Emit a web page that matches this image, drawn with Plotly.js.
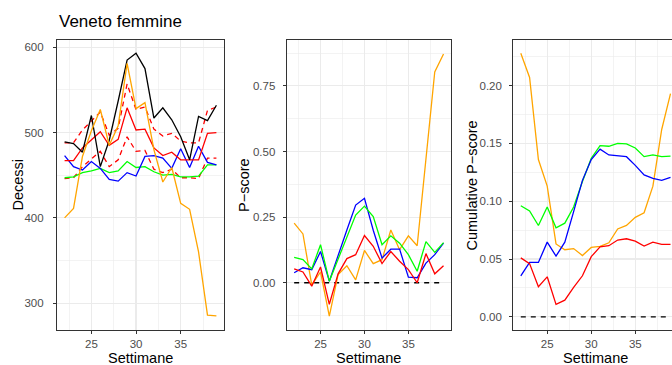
<!DOCTYPE html>
<html>
<head>
<meta charset="utf-8">
<script src="https://cdn.plot.ly/plotly-3.0.1.min.js"></script>
<style>
html,body{margin:0;padding:0;overflow:hidden;background:#fff;}
#chart{width:685px;height:365px;}
</style>
</head>
<body>
<div id="chart"></div>
<script>
// ---- data ----
const weeks = [22,23,24,25,26,27,28,29,30,31,32,33,34,35,36,37,38,39];

// Panel 1: Decessi
const deathsBlack   = [489,487,477,520,460,491,537,585,593,575,517,529,515,495,468,519,514,532];
const deathsOrange  = [400,411,472,502,527,485,508,581,528,535,480,442,459,417,410,360,286,285];
const deathsRed     = [467,467,482,492,501,485,492,529,503,504,482,473,477,468,468,468,499,500];
const deathsRedHi   = [488,488,503,514,524,497,505,557,527,530,504,496,499,490,488,488,526,530];
const deathsRedLo   = [446,447,460,469,478,460,468,495,478,479,457,453,457,447,447,446,470,470];
const deathsBlue    = [473,460,456,466,458,445,443,453,449,472,473,470,458,481,459,484,465,462];
const deathsGreen   = [447,448,453,455,458,453,455,466,459,460,454,450,451,448,448,449,462,462];

// Panel 2: P-score
const pOrange = [0.227,0.186,-0.008,0.041,-0.127,0.031,0.065,0.011,0.123,0.073,0.088,0.201,0.126,0.179,0.141,0.47,0.803,0.872];
const pBlue   = [0.038,0.057,0.050,0.119,0.006,0.107,0.201,0.296,0.322,0.200,0.094,0.128,0.128,0.021,0.019,0.075,0.107,0.151];
const pGreen  = [0.097,0.088,0.053,0.145,0.006,0.088,0.176,0.258,0.292,0.252,0.145,0.179,0.151,0.107,0.044,0.157,0.116,0.153];
const pRed    = [0.053,0.041,-0.013,0.060,-0.082,0.034,0.092,0.107,0.180,0.139,0.073,0.119,0.082,0.050,0.000,0.111,0.034,0.065];

// Panel 3: Cumulative P-score
const cOrange = [0.228,0.207,0.136,0.113,0.063,0.058,0.059,0.053,0.060,0.061,0.064,0.076,0.079,0.086,0.090,0.113,0.162,0.193];
const cGreen  = [0.096,0.0915,0.079,0.095,0.077,0.081,0.095,0.117,0.137,0.148,0.1475,0.150,0.1495,0.146,0.1385,0.140,0.1385,0.139];
const cBlue   = [0.0355,0.047,0.047,0.0646,0.0525,0.0646,0.091,0.118,0.136,0.145,0.140,0.139,0.1385,0.131,0.1227,0.1198,0.118,0.1206];
const cRed    = [0.051,0.046,0.026,0.0346,0.0107,0.0144,0.0254,0.0355,0.052,0.0606,0.0615,0.0664,0.0675,0.0655,0.0612,0.0646,0.0626,0.0626];

const zeroLine = weeks.map(() => 0);

// ---- styling ----
const W = 685, H = 365;
const LW = 1.3;
const FONT = 'Liberation Sans, Arial, Helvetica, sans-serif';
function line(x, y, color, xa, ya, dash) {
  return {x: x, y: y, type: 'scatter', mode: 'lines', xaxis: xa, yaxis: ya,
          line: {color: color, width: LW, dash: dash || 'solid'}, hoverinfo: 'skip', showlegend: false};
}
const traces = [
  line(weeks, deathsRedHi, '#FF0000', 'x', 'y', '5px,4px'),
  line(weeks, deathsRedLo, '#FF0000', 'x', 'y', '5px,4px'),
  line(weeks, deathsGreen, '#00FF00', 'x', 'y'),
  line(weeks, deathsBlue, '#0000FF', 'x', 'y'),
  line(weeks, deathsRed, '#FF0000', 'x', 'y'),
  line(weeks, deathsBlack, '#000000', 'x', 'y'),
  line(weeks, deathsOrange, '#FFA500', 'x', 'y'),

  line(weeks, zeroLine, '#000000', 'x2', 'y2', '5px,5px'),
  line(weeks, pOrange, '#FFA500', 'x2', 'y2'),
  line(weeks, pBlue, '#0000FF', 'x2', 'y2'),
  line(weeks, pGreen, '#00FF00', 'x2', 'y2'),
  line(weeks, pRed, '#FF0000', 'x2', 'y2'),

  line(weeks, zeroLine, '#000000', 'x3', 'y3', '5px,5px'),
  line(weeks, cOrange, '#FFA500', 'x3', 'y3'),
  line(weeks, cGreen, '#00FF00', 'x3', 'y3'),
  line(weeks, cBlue, '#0000FF', 'x3', 'y3'),
  line(weeks, cRed, '#FF0000', 'x3', 'y3'),
];

const yDom = [1 - 330/H, 1 - 40/H];
function xaxis(x0, x1, anchor) {
  return {domain: [x0/W, x1/W], anchor: anchor, range: [21.15, 39.85],
    tickmode: 'linear', tick0: 0, dtick: 5,
    showgrid: true, gridcolor: '#EBEBEB', gridwidth: 1.1,
    minor: {tick0: 0, dtick: 2.5, showgrid: true, gridcolor: '#EBEBEB', gridwidth: 0.6, ticks: ''},
    zeroline: false, showline: true, mirror: true, linecolor: '#333333', linewidth: 1.1,
    ticks: 'outside', ticklen: 3, tickcolor: '#333333', tickwidth: 1,
    tickfont: {family: FONT, size: 11.5, color: '#4D4D4D'}, ticklabelstandoff: 0};
}
function yaxis(range, dtick, fmt, anchor, standoff) {
  return {domain: yDom, anchor: anchor, range: range,
    tickmode: 'linear', tick0: 0, dtick: dtick, tickformat: fmt,
    showgrid: true, gridcolor: '#EBEBEB', gridwidth: 1.1,
    minor: {tick0: 0, dtick: dtick/2, showgrid: true, gridcolor: '#EBEBEB', gridwidth: 0.6, ticks: ''},
    zeroline: false, showline: true, mirror: true, linecolor: '#333333', linewidth: 1.1,
    ticks: 'outside', ticklen: 3, tickcolor: '#333333', tickwidth: 1,
    tickfont: {family: FONT, size: 11.5, color: '#4D4D4D'}, ticklabelstandoff: standoff};
}
function ann(text, px, py, size, opts) {
  return Object.assign({text: text, xref: 'paper', yref: 'paper', x: px/W, y: 1 - py/H,
    showarrow: false, xanchor: 'center', yanchor: 'middle',
    font: {family: FONT, size: size, color: '#000000'}}, opts || {});
}

const layout = {
  width: W, height: H,
  margin: {l: 0, r: 0, t: 0, b: 0},
  paper_bgcolor: '#FFFFFF', plot_bgcolor: '#FFFFFF',
  showlegend: false,
  xaxis: xaxis(57, 224, 'y'),
  xaxis2: xaxis(286.7, 451, 'y2'),
  xaxis3: xaxis(513.3, 678, 'y3'),
  yaxis: yaxis([268.5, 608.5], 100, 'd', 'x', 7),
  yaxis2: yaxis([-0.18, 0.925], 0.25, '.2f', 'x2', 5),
  yaxis3: yaxis([-0.0114, 0.2394], 0.05, '.2f', 'x3', 5),
  annotations: [
    ann('Veneto femmine', 57, 22, 17, {xanchor: 'left'}),
    ann('Settimane', 140.5, 357.5, 14.5),
    ann('Settimane', 368.8, 357.5, 14.5),
    ann('Settimane', 595.6, 357.5, 14.5),
    ann('Decessi', 17.5, 185, 14.5, {textangle: -90}),
    ann('P\u2212score', 244, 185, 14.5, {textangle: -90}),
    ann('Cumulative P\u2212score', 471.5, 185, 14.5, {textangle: -90}),
  ]
};

Plotly.newPlot('chart', traces, layout, {staticPlot: true, displayModeBar: false});
</script>
</body>
</html>
